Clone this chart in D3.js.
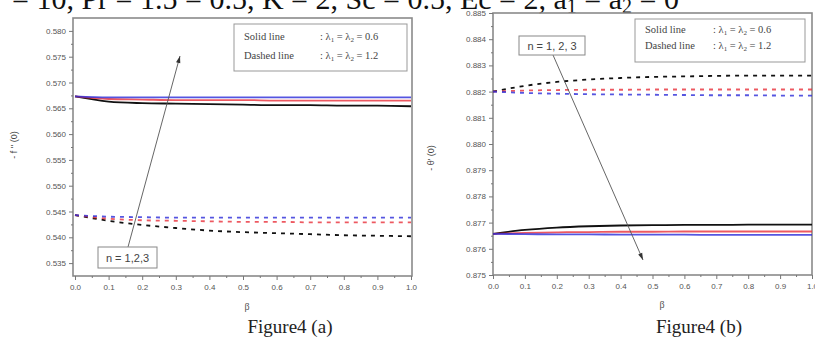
<!DOCTYPE html>
<html>
<head>
<meta charset="utf-8">
<script src="https://cdn.jsdelivr.net/npm/d3@7/dist/d3.min.js"></script>
<style>
  html, body { margin: 0; padding: 0; background: #fff; }
  svg { display: block; }
</style>
</head>
<body>
<svg id="fig" width="815" height="338"></svg>
<script>
// β values shared by every curve
const beta = [0.0, 0.1, 0.2, 0.3, 0.4, 0.5, 0.6, 0.7, 0.8, 0.9, 1.0];
const betaTickLabels = ["0.0", "0.1", "0.2", "0.3", "0.4", "0.5", "0.6", "0.7", "0.8", "0.9", "1.0"];

// Panel (a): skin friction -f''(0)
const fppTickLabels = ["0.535", "0.540", "0.545", "0.550", "0.555", "0.560", "0.565", "0.570", "0.575", "0.580"];
const fppSolidN1 = [0.5673, 0.5663, 0.5660, 0.5659, 0.5658, 0.5657, 0.5656, 0.5656, 0.5655, 0.5655, 0.5654];
const fppSolidN2 = [0.5673, 0.5668, 0.5667, 0.5666, 0.5666, 0.5666, 0.5665, 0.5665, 0.5665, 0.5665, 0.5665];
const fppSolidN3 = [0.5673, 0.5671, 0.5671, 0.5671, 0.5671, 0.5671, 0.5671, 0.5671, 0.5671, 0.5671, 0.5671];
const fppDashedN1 = [0.5443, 0.5432, 0.5424, 0.5418, 0.5413, 0.5410, 0.5408, 0.5406, 0.5404, 0.5403, 0.5402];
const fppDashedN2 = [0.5443, 0.5436, 0.5433, 0.5432, 0.5431, 0.5430, 0.5430, 0.5429, 0.5429, 0.5429, 0.5429];
const fppDashedN3 = [0.5443, 0.5440, 0.5439, 0.5438, 0.5438, 0.5438, 0.5438, 0.5438, 0.5438, 0.5438, 0.5438];

// Panel (b): heat transfer -θ'(0)
const thetaTickLabels = ["0.875", "0.876", "0.877", "0.878", "0.879", "0.880", "0.881", "0.882", "0.883", "0.884", "0.885"];
const thetaSolidN1 = [0.87657, 0.87672, 0.87681, 0.87686, 0.87689, 0.87690, 0.87691, 0.87691, 0.87692, 0.87692, 0.87692];
const thetaSolidN2 = [0.87657, 0.87661, 0.87663, 0.87664, 0.87665, 0.87665, 0.87666, 0.87666, 0.87666, 0.87666, 0.87666];
const thetaSolidN3 = [0.87657, 0.87656, 0.87655, 0.87655, 0.87654, 0.87654, 0.87654, 0.87653, 0.87653, 0.87653, 0.87653];
const thetaDashedN1 = [0.88200, 0.88222, 0.88237, 0.88246, 0.88252, 0.88256, 0.88258, 0.88260, 0.88261, 0.88261, 0.88261];
const thetaDashedN2 = [0.88200, 0.88204, 0.88206, 0.88207, 0.88207, 0.88208, 0.88208, 0.88208, 0.88208, 0.88208, 0.88208];
const thetaDashedN3 = [0.88200, 0.88195, 0.88192, 0.88190, 0.88189, 0.88188, 0.88187, 0.88186, 0.88186, 0.88185, 0.88185];

const seriesColors = ["#111111", "#e8303a", "#2b2bd8"]; // n = 1, 2, 3

const svg = d3.select("#fig");

// Parameter line of the figure text, partly cut off at the top edge
const header = svg.append("text")
  .attr("x", 12).attr("y", 9)
  .attr("font-family", "'Liberation Serif', 'Times New Roman', serif")
  .attr("font-size", 30)
  .attr("fill", "#111");
header.append("tspan").text("= 10, Pr = 1.5    = 0.5, K = 2, Sc =    0.5, Ec = 2, a");
header.append("tspan").attr("font-size", 20).attr("dy", 4).text("1");
header.append("tspan").attr("dy", -4).text(" = a");
header.append("tspan").attr("font-size", 20).attr("dy", 4).text("2");
header.append("tspan").attr("dy", -4).text(" = 0");

function drawPanel(cfg) {
  const g = svg.append("g");
  const x = d3.scaleLinear().domain([0, 1]).range([cfg.left, cfg.right]);
  const y = d3.scaleLinear().domain(cfg.yDomain).range([cfg.bottom, cfg.top]);

  // plot frame
  g.append("rect")
    .attr("x", cfg.frameLeft).attr("y", cfg.top)
    .attr("width", cfg.frameRight - cfg.frameLeft).attr("height", cfg.bottom - cfg.top)
    .attr("fill", "none").attr("stroke", "#8a8a8a").attr("stroke-width", 1.6);

  const tickFont = "'Liberation Sans', Arial, sans-serif";

  // x axis: minor then major ticks
  const xMinor = d3.range(0.05, 1, 0.1);
  g.append("g").attr("transform", `translate(0,${cfg.bottom})`)
    .call(d3.axisBottom(x).tickValues(xMinor).tickSize(2).tickFormat(""))
    .call(a => a.select(".domain").remove())
    .selectAll("line").attr("stroke", "#777");
  const xAx = g.append("g").attr("transform", `translate(0,${cfg.bottom})`)
    .call(d3.axisBottom(x).tickValues(betaTickLabels.map(Number)).tickSize(4).tickPadding(4)
      .tickFormat((d, i) => betaTickLabels[i]));
  xAx.select(".domain").remove();
  xAx.selectAll("line").attr("stroke", "#777");
  xAx.selectAll("text").attr("font-family", tickFont).attr("font-size", 8).attr("fill", "#555");

  // y axis
  const yVals = cfg.yTickLabels.map(Number);
  const step = yVals[1] - yVals[0];
  const yMinor = yVals.map(v => v + step / 2).filter(v => v < cfg.yDomain[1]);
  g.append("g").attr("transform", `translate(${cfg.frameLeft},0)`)
    .call(d3.axisLeft(y).tickValues(yMinor).tickSize(2).tickFormat(""))
    .call(a => a.select(".domain").remove())
    .selectAll("line").attr("stroke", "#777");
  const yAx = g.append("g").attr("transform", `translate(${cfg.frameLeft},0)`)
    .call(d3.axisLeft(y).tickValues(yVals).tickSize(4).tickPadding(3)
      .tickFormat((d, i) => cfg.yTickLabels[i]));
  yAx.select(".domain").remove();
  yAx.selectAll("line").attr("stroke", "#777");
  yAx.selectAll("text").attr("font-family", tickFont).attr("font-size", 8).attr("fill", "#555");

  // curves
  const line = d3.line().x((d, i) => x(beta[i])).y(d => y(d)).curve(d3.curveMonotoneX);
  cfg.solid.forEach((s, i) => {
    g.append("path").datum(s).attr("d", line)
      .attr("fill", "none").attr("stroke", seriesColors[i]).attr("stroke-width", 1.8)
      .attr("stroke-opacity", i === 0 ? 1 : 0.8);
  });
  cfg.dashed.forEach((s, i) => {
    g.append("path").datum(s).attr("d", line)
      .attr("fill", "none").attr("stroke", seriesColors[i]).attr("stroke-width", 1.8)
      .attr("stroke-dasharray", "4,5").attr("stroke-opacity", i === 0 ? 1 : 0.8);
  });

  // axis titles
  g.append("text")
    .attr("transform", `translate(${cfg.yTitleX},${cfg.yTitleY}) rotate(-90)`)
    .attr("text-anchor", "middle")
    .attr("font-family", tickFont).attr("font-size", 9).attr("fill", "#444")
    .text(cfg.yTitle);
  g.append("text")
    .attr("x", cfg.betaX).attr("y", cfg.betaY)
    .attr("text-anchor", "middle")
    .attr("font-family", "'Liberation Serif', serif").attr("font-size", 10).attr("fill", "#555")
    .text("β");

  // legend box
  const lg = g.append("g");
  lg.append("rect")
    .attr("x", cfg.legend.x).attr("y", cfg.legend.y)
    .attr("width", cfg.legend.w).attr("height", cfg.legend.h)
    .attr("fill", "#fff").attr("stroke", "#999").attr("stroke-width", 1);
  const rows = [["Solid line", "0.6"], ["Dashed line", "1.2"]];
  rows.forEach((r, k) => {
    const ty = cfg.legend.y + cfg.legend.row0 + k * cfg.legend.rowGap;
    lg.append("text").attr("x", cfg.legend.x + 10).attr("y", ty)
      .attr("font-family", "'Liberation Serif', serif").attr("font-size", 10.5).attr("fill", "#444")
      .text(r[0]);
    const t = lg.append("text").attr("x", cfg.legend.x + cfg.legend.col2).attr("y", ty)
      .attr("font-family", "'Liberation Serif', serif").attr("font-size", 10.5).attr("fill", "#444");
    t.append("tspan").text(": λ");
    t.append("tspan").attr("font-size", 7).attr("dy", 2).text("1");
    t.append("tspan").attr("dy", -2).text(" = λ");
    t.append("tspan").attr("font-size", 7).attr("dy", 2).text("2");
    t.append("tspan").attr("dy", -2).text(" = " + r[1]);
  });

  // n annotation with arrow
  const an = cfg.note;
  g.append("line")
    .attr("x1", an.fromX).attr("y1", an.fromY).attr("x2", an.toX).attr("y2", an.toY)
    .attr("stroke", "#555").attr("stroke-width", 0.9);
  const ang = Math.atan2(an.toY - an.fromY, an.toX - an.fromX);
  const hl = 7, hw = 2.2;
  const bx = an.toX - hl * Math.cos(ang), by = an.toY - hl * Math.sin(ang);
  g.append("path")
    .attr("d", `M${an.toX},${an.toY}L${bx - hw * Math.sin(ang)},${by + hw * Math.cos(ang)}L${bx + hw * Math.sin(ang)},${by - hw * Math.cos(ang)}Z`)
    .attr("fill", "#333");
  g.append("rect")
    .attr("x", an.bx).attr("y", an.by).attr("width", an.bw).attr("height", an.bh)
    .attr("fill", "#fff").attr("stroke", "#888").attr("stroke-width", 1);
  g.append("text")
    .attr("x", an.bx + an.bw / 2).attr("y", an.by + an.bh / 2 + 4)
    .attr("text-anchor", "middle")
    .attr("font-family", tickFont).attr("font-size", 11).attr("fill", "#444")
    .text(an.text);

  // caption
  g.append("text")
    .attr("x", cfg.capX).attr("y", cfg.capY)
    .attr("text-anchor", "middle")
    .attr("font-family", "'Liberation Serif', 'Times New Roman', serif")
    .attr("font-size", 19).attr("fill", "#222")
    .text(cfg.caption);
}

drawPanel({
  left: 75, right: 411, frameLeft: 73, frameRight: 412, top: 18, bottom: 276,
  yDomain: [0.5325, 0.5825], yTickLabels: fppTickLabels,
  solid: [fppSolidN1, fppSolidN2, fppSolidN3],
  dashed: [fppDashedN1, fppDashedN2, fppDashedN3],
  yTitle: "- f '' (0)", yTitleX: 17, yTitleY: 145,
  betaX: 247, betaY: 310,
  legend: { x: 234, y: 24, w: 173, h: 47, row0: 16, rowGap: 19, col2: 86 },
  note: { text: "n = 1,2,3", bx: 98, by: 247, bw: 59, bh: 21, fromX: 128, fromY: 247, toX: 180, toY: 56 },
  caption: "Figure4 (a)", capX: 290, capY: 333
});

drawPanel({
  left: 493, right: 812, frameLeft: 493, frameRight: 812, top: 13, bottom: 275,
  yDomain: [0.875, 0.885], yTickLabels: thetaTickLabels,
  solid: [thetaSolidN1, thetaSolidN2, thetaSolidN3],
  dashed: [thetaDashedN1, thetaDashedN2, thetaDashedN3],
  yTitle: "- θ' (0)", yTitleX: 434, yTitleY: 158,
  betaX: 662, betaY: 308,
  legend: { x: 635, y: 19, w: 170, h: 43, row0: 14, rowGap: 16, col2: 78 },
  note: { text: "n = 1, 2, 3", bx: 519, by: 36, bw: 66, bh: 19, fromX: 553, fromY: 55, toX: 643, toY: 260 },
  caption: "Figure4 (b)", capX: 699, capY: 333
});
</script>
</body>
</html>
